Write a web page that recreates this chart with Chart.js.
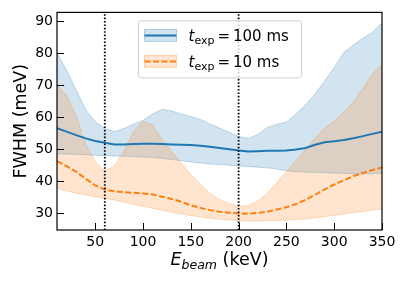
<!DOCTYPE html>
<html>
<head>
<meta charset="utf-8">
<script src="https://cdn.jsdelivr.net/npm/chart.js@4.4.0/dist/chart.umd.min.js"></script>
<style>
html,body{margin:0;padding:0;background:#fff}
#wrap{width:407px;height:285px}
</style>
</head>
<body>
<div id="wrap"><canvas id="c" width="407" height="285"></canvas></div>
<script>
// beam energy (keV)
const energy = [10,20,30,40,50,60,70,80,90,100,110,120,130,140,150,160,170,180,190,200,
                210,220,230,240,250,260,270,280,290,300,310,320,330,340,350];

// t_exp = 100 ms : mean and band
const fwhm100 = [56.6,55.5,54.4,53.4,52.6,52.0,51.5,51.5,51.6,51.7,51.7,51.6,51.5,51.4,51.3,51.1,50.8,50.4,50.0,49.6,
                 49.3,49.4,49.5,49.5,49.6,49.9,50.4,51.4,52.2,52.5,52.9,53.4,54.1,54.8,55.5];
const hi100 = [80.0,74.7,68.5,62.3,58.6,56.5,55.5,56.5,57.8,59.0,61.0,62.5,61.9,61.0,60.2,59.3,57.9,56.6,55.3,54.0,
               53.3,54.6,56.8,57.8,58.5,61.0,63.8,67.3,71.3,75.5,80.2,82.5,84.6,86.5,89.5];
const lo100 = [48.6,48.5,48.4,48.3,48.1,48.0,47.9,47.8,47.7,47.6,47.4,47.1,46.8,46.4,46.0,45.7,45.4,45.2,45.0,44.8,
               44.6,44.4,44.2,43.8,43.3,43.0,42.8,42.8,42.7,42.5,42.5,42.3,42.3,42.4,42.5];

// t_exp = 10 ms : mean and band
const fwhm10 = [46.3,44.7,43.0,40.8,38.7,37.4,36.9,36.6,36.4,36.2,35.9,35.2,34.5,33.6,32.5,31.7,31.0,30.5,30.2,30.0,
                29.9,30.1,30.5,31.2,31.9,32.9,34.2,35.8,37.5,39.0,40.3,41.6,42.6,43.5,44.3];
const hi10 = [70.0,66.9,60.5,51.5,46.2,43.0,44.8,49.5,55.5,58.8,57.6,53.0,49.3,45.6,42.2,39.0,36.2,34.3,33.0,32.3,
              32.4,33.8,36.3,39.6,43.0,46.5,49.9,53.4,56.6,58.8,61.6,64.7,69.0,73.5,76.7];
const lo10 = [37.8,37.0,36.3,35.7,35.2,34.7,34.2,33.5,32.8,32.2,31.6,31.0,30.3,29.8,29.3,28.9,28.5,28.2,27.9,27.7,
              27.6,27.6,27.7,27.8,27.9,28.1,28.3,28.6,29.0,29.4,29.8,30.2,30.6,31.0,31.3];

const markers = [60, 200];
const xTicks = [50,100,150,200,250,300,350];
const yTicks = [30,40,50,60,70,80,90];
const xMin = 10, xMax = 350, yMin = 24.8, yMax = 92.7;
const legendLabels = ['100 ms', '10 ms'];

const BLUE = '#1f77b4', ORANGE = '#ff7f0e';
const FONT = "'DejaVu Sans', sans-serif";

const pts = arr => energy.map((x, i) => ({x: x, y: arr[i]}));
const vline = x => [{x: x, y: yMin}, {x: x, y: yMax}];

const datasets = [
  {data: pts(hi100), borderColor: 'rgba(31,119,180,0.25)', borderWidth: 1,
   backgroundColor: 'rgba(31,119,180,0.2)', fill: 1, pointRadius: 0, order: 6},
  {data: pts(lo100), borderColor: 'rgba(31,119,180,0.25)', borderWidth: 1,
   fill: false, pointRadius: 0, order: 6},
  {data: pts(hi10), borderColor: 'rgba(255,127,14,0.25)', borderWidth: 1,
   backgroundColor: 'rgba(255,127,14,0.2)', fill: 3, pointRadius: 0, order: 5},
  {data: pts(lo10), borderColor: 'rgba(255,127,14,0.25)', borderWidth: 1,
   fill: false, pointRadius: 0, order: 5},
  {data: pts(fwhm100), borderColor: BLUE, borderWidth: 2, fill: false, pointRadius: 0, order: 2},
  {data: pts(fwhm10), borderColor: ORANGE, borderWidth: 2, borderDash: [6, 2.5],
   fill: false, pointRadius: 0, order: 1}
];
markers.forEach(m => datasets.push({data: vline(m), borderColor: '#000', borderWidth: 1.8,
  borderDash: [1.6, 1.8], fill: false, pointRadius: 0, order: 0}));

// inward ticks + full frame, like the matplotlib axes
const framePlugin = {
  id: 'frame',
  afterDatasetsDraw(chart) {
    const {ctx, chartArea: a, scales: {x, y}} = chart;
    ctx.save();
    ctx.strokeStyle = '#000';
    ctx.lineWidth = 1;
    ctx.beginPath();
    xTicks.forEach(v => {
      const px = Math.round(x.getPixelForValue(v)) + 0.5;
      ctx.moveTo(px, a.bottom); ctx.lineTo(px, a.bottom - 7);
    });
    yTicks.forEach(v => {
      const py = Math.round(y.getPixelForValue(v)) + 0.5;
      ctx.moveTo(a.left, py); ctx.lineTo(a.left + 7, py);
    });
    ctx.stroke();
    ctx.lineWidth = 1.2;
    ctx.strokeRect(a.left, a.top, a.right - a.left, a.bottom - a.top);
    ctx.restore();
  }
};

const legendPlugin = {
  id: 'bandLegend',
  afterDraw(chart) {
    const {ctx, chartArea: a} = chart;
    const w = 163, h = 57;
    const x0 = Math.round((a.left + a.right) / 2 - w / 2) + 0.5, y0 = a.top + 8.5;
    const items = [
      {line: BLUE, fill: 'rgba(31,119,180,0.2)', edge: 'rgba(31,119,180,0.3)', dash: []},
      {line: ORANGE, fill: 'rgba(255,127,14,0.2)', edge: 'rgba(255,127,14,0.3)', dash: [6, 2.5]}
    ];
    ctx.save();
    ctx.beginPath();
    ctx.roundRect(x0, y0, w, h, 3);
    ctx.fillStyle = 'rgba(255,255,255,0.8)';
    ctx.fill();
    ctx.strokeStyle = '#d0d0d0';
    ctx.lineWidth = 1;
    ctx.stroke();
    items.forEach((it, i) => {
      const cy = y0 + 14.5 + i * 26;
      ctx.setLineDash([]);
      ctx.fillStyle = it.fill;
      ctx.fillRect(x0 + 6, cy - 6, 32, 12);
      ctx.strokeStyle = it.edge;
      ctx.lineWidth = 1;
      ctx.strokeRect(x0 + 6, cy - 6, 32, 12);
      ctx.setLineDash(it.dash);
      ctx.strokeStyle = it.line;
      ctx.lineWidth = 2;
      ctx.beginPath();
      ctx.moveTo(x0 + 6, cy); ctx.lineTo(x0 + 38, cy);
      ctx.stroke();
      ctx.setLineDash([]);
      ctx.fillStyle = '#000';
      ctx.textBaseline = 'alphabetic';
      let tx = x0 + 50;
      ctx.font = 'italic 15px ' + FONT;
      ctx.fillText('t', tx, cy + 5.5);
      tx += ctx.measureText('t').width;
      ctx.font = '11px ' + FONT;
      ctx.fillText('exp', tx, cy + 8.5);
      tx += ctx.measureText('exp').width + 3;
      ctx.font = '15px ' + FONT;
      ctx.fillText('=', tx, cy + 5.5);
      tx += ctx.measureText('=').width + 3;
      ctx.fillText(legendLabels[i], tx, cy + 5.5);
    });
    ctx.restore();
  }
};

// x label with italic subscript: E_beam (keV)
const xLabelPlugin = {
  id: 'xLabel',
  afterDraw(chart) {
    const {ctx, chartArea: a} = chart;
    ctx.save();
    ctx.fillStyle = '#000';
    ctx.textBaseline = 'alphabetic';
    const big = 'italic 17.5px ' + FONT, sub = 'italic 12.5px ' + FONT, reg = '17.5px ' + FONT;
    ctx.font = big; const wE = ctx.measureText('E').width;
    ctx.font = sub; const wB = ctx.measureText('beam').width;
    ctx.font = reg; const wK = ctx.measureText(' (keV)').width;
    let tx = (a.left + a.right) / 2 - (wE + wB + wK) / 2;
    const base = 264.5;
    ctx.font = big; ctx.fillText('E', tx, base); tx += wE;
    ctx.font = sub; ctx.fillText('beam', tx, base + 4); tx += wB;
    ctx.font = reg; ctx.fillText(' (keV)', tx, base);
    ctx.restore();
  }
};

new Chart(document.getElementById('c'), {
  type: 'line',
  data: {datasets: datasets},
  options: {
    responsive: false,
    animation: false,
    devicePixelRatio: 1,
    layout: {padding: {left: 0, top: 12, right: 25, bottom: 0}},
    plugins: {legend: {display: false}, tooltip: {enabled: false}},
    elements: {line: {tension: 0}},
    scales: {
      x: {
        type: 'linear', min: xMin, max: xMax,
        afterBuildTicks: s => { s.ticks = xTicks.map(v => ({value: v})); },
        afterFit: s => { s.height = 55; },
        grid: {display: false, drawTicks: false},
        border: {display: false},
        ticks: {color: '#000', padding: 4, maxRotation: 0, font: {family: FONT, size: 14},
                callback: v => String(v)}
      },
      y: {
        type: 'linear', min: yMin, max: yMax,
        afterBuildTicks: s => { s.ticks = yTicks.map(v => ({value: v})); },
        afterFit: s => { s.width = 57; },
        grid: {display: false, drawTicks: false},
        border: {display: false},
        ticks: {color: '#000', padding: 4, font: {family: FONT, size: 14},
                callback: v => String(v)},
        title: {display: true, text: 'FWHM (meV)', color: '#000',
                font: {family: FONT, size: 17.5}, padding: {top: 11, bottom: 0}}
      }
    }
  },
  plugins: [framePlugin, legendPlugin, xLabelPlugin]
});
</script>
</body>
</html>
